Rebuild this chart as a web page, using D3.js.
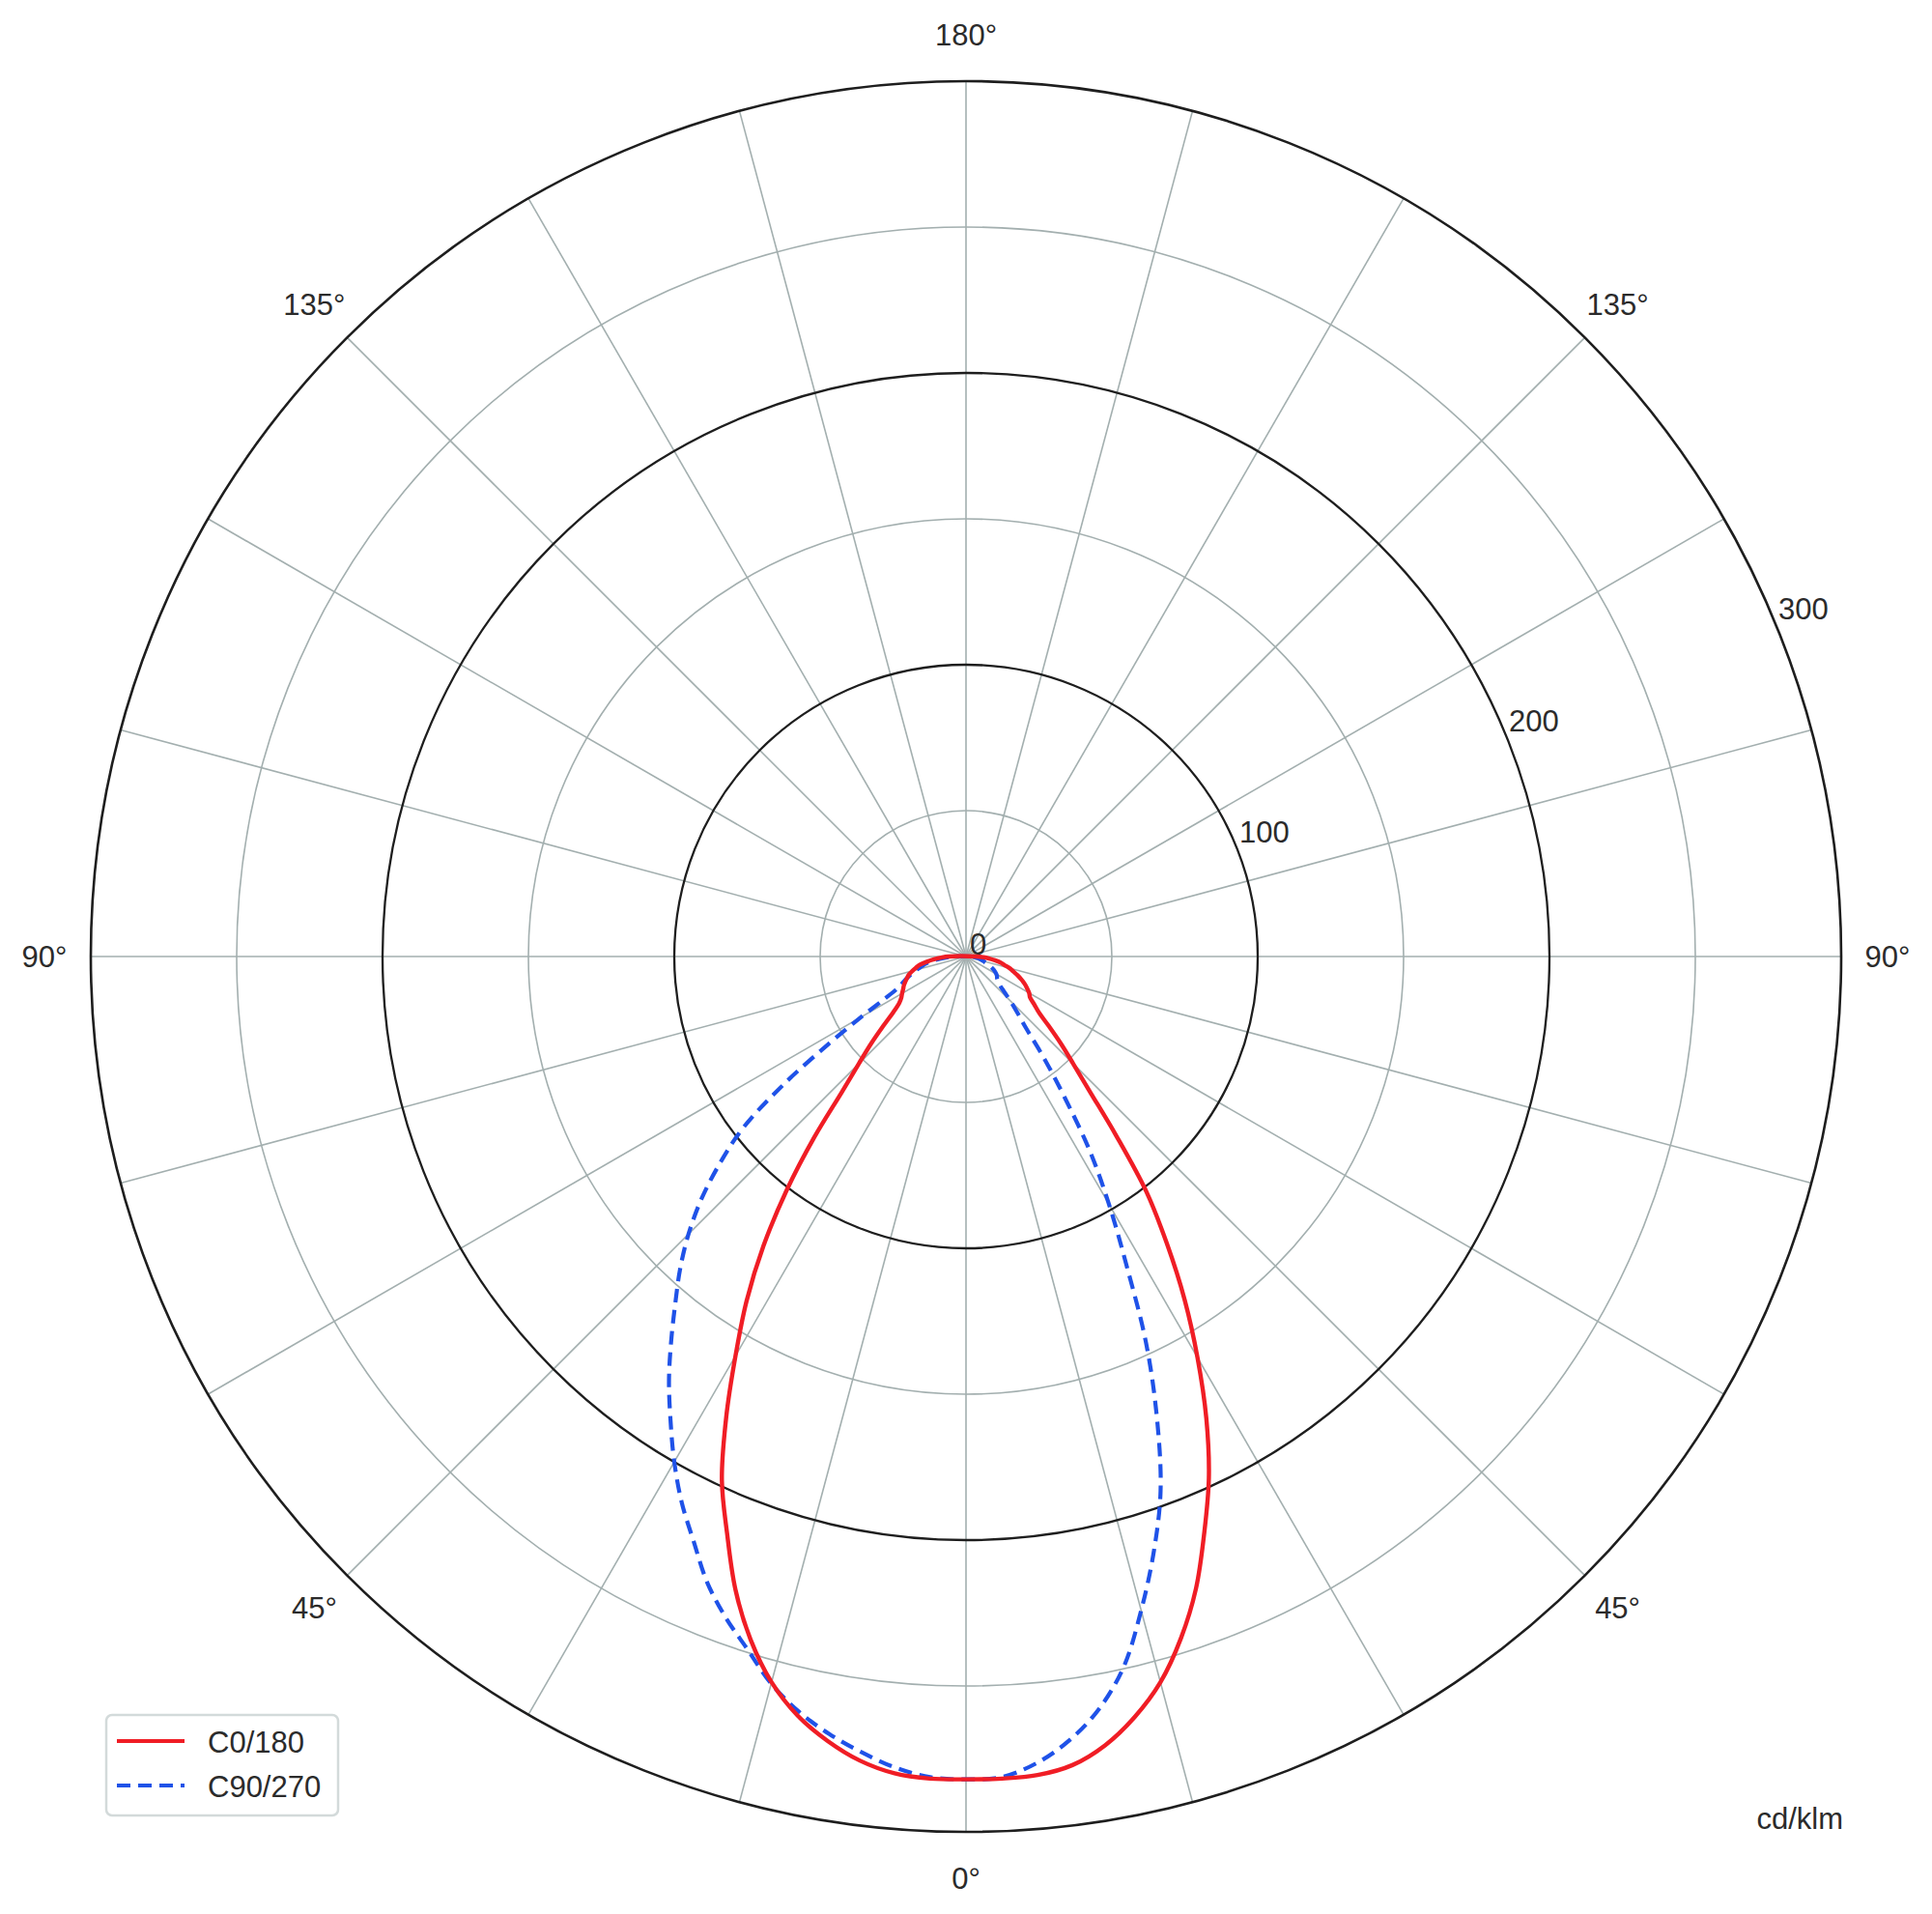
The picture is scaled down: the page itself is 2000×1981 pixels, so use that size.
<!DOCTYPE html>
<html>
<head>
<meta charset="utf-8">
<script src="https://cdn.jsdelivr.net/npm/d3@7"></script>
<style>
  body { margin: 0; background: #fff; }
  text { font-family: "Liberation Sans", Arial, sans-serif; fill: #2b2b2b; }
</style>
</head>
<body>
<div id="chart"></div>
<script>
// gamma angles (deg, 0 = straight down) and intensities in cd/klm
var gamma = [0, 2.5, 5, 7.5, 10, 12.5, 15, 17.5, 20, 22.5, 25, 27.5, 30, 32.5, 35, 37.5, 40, 42.5, 45,
             47.5, 50, 52.5, 55, 57.5, 60, 62.5, 65, 67.5, 70, 72.5, 75, 77.5, 80, 82.5, 85, 87.5, 90];

var c0   = [282, 282, 281.6, 279.5, 274.5, 267, 257.5, 245, 230.5, 213.5, 197, 178.4, 158.7, 139.5, 120, 101.5, 80, 63, 52,
            44, 37, 31.5, 28.5, 26, 25, 23.6, 22.2, 20.5, 18.8, 17, 15.5, 13.5, 12, 10, 8, 6, 3.5];
var c180 = [282, 282, 281, 278, 273, 266.5, 257.5, 245.5, 231, 214, 198, 178, 158, 140, 121, 101, 81, 63, 52,
            44, 37, 31.5, 28, 26.3, 25.3, 24.3, 23.5, 22.5, 21.5, 20.5, 19, 17.5, 16, 13.5, 11, 8.5, 6];
var c90  = [282, 281.5, 277.5, 271, 262, 249.5, 232, 214, 195, 171, 146, 119, 98, 79, 59, 44, 32, 26, 21.5,
            17.5, 15, 13.8, 13, 12.6, 12, 11.2, 10.3, 9.3, 8, 7, 6.2, 5.5, 4.8, 4, 3.3, 2.5, 1.5];
var c270 = [282, 281.5, 279, 275, 270.5, 265, 258, 249, 241, 232, 221, 211, 200, 188.5, 177.5, 166, 155, 145, 134.5,
            123, 110, 96, 76, 56, 41.5, 31.5, 26, 23.5, 21.5, 19.5, 17.5, 15.5, 14, 11.5, 9, 6.5, 4];

var ringTicks = [50, 100, 150, 200, 250, 300];
var majorRings = [100, 200, 300];
var radialLabels = [0, 100, 200, 300];
var angleTickPos = [0, 45, 90, 135, 180, 225, 270, 315];
var angleTickLabels = ["180°", "135°", "90°", "45°", "0°", "45°", "90°", "135°"];

var width = 2000, height = 1981;
var cx = 1000, cy = 990, R = 906;

var svg = d3.select("#chart").append("svg")
  .attr("width", width)
  .attr("height", height);

svg.append("rect").attr("width", width).attr("height", height).attr("fill", "#fff");

var g = svg.append("g").attr("transform", `translate(${cx},${cy})`);

var r = d3.scaleLinear().domain([0, 300]).range([0, R]);
var rad = Math.PI / 180;

// spokes every 15 degrees
g.selectAll(".spoke")
  .data(d3.range(0, 360, 15))
  .enter().append("line")
  .attr("x1", 0).attr("y1", 0)
  .attr("x2", d => R * Math.sin(d * rad))
  .attr("y2", d => -R * Math.cos(d * rad))
  .attr("stroke", "#a3afaf")
  .attr("stroke-width", 1.6);

// rings
g.selectAll(".ring")
  .data(ringTicks)
  .enter().append("circle")
  .attr("r", d => r(d))
  .attr("fill", "none")
  .attr("stroke", d => majorRings.indexOf(d) >= 0 ? "#1e1e1e" : "#a3afaf")
  .attr("stroke-width", d => d === 300 ? 2.6 : (majorRings.indexOf(d) >= 0 ? 2.3 : 1.6));

// radial labels along 22.5 deg above horizontal
var labAng = 67.5 * rad;
g.selectAll(".rlab")
  .data(radialLabels)
  .enter().append("text")
  .attr("x", d => r(d) * Math.sin(labAng) + 4)
  .attr("y", d => -r(d) * Math.cos(labAng) - 2)
  .attr("font-size", 31)
  .attr("text-anchor", "start")
  .text(d => d);

// angle labels
g.selectAll(".alab")
  .data(angleTickPos)
  .enter().append("text")
  .attr("x", d => (R + 48) * Math.sin(d * rad))
  .attr("y", d => -(R + 48) * Math.cos(d * rad))
  .attr("font-size", 31)
  .attr("text-anchor", "middle")
  .attr("dominant-baseline", "central")
  .text((d, i) => angleTickLabels[i]);

// build polar outline: right half-plane from 90 down to 0, left half-plane from 0 up to 90
function outline(right, left) {
  var pts = [];
  for (var i = gamma.length - 1; i >= 0; i--) pts.push([Math.PI - gamma[i] * rad, right[i]]);
  for (var j = 1; j < gamma.length; j++) pts.push([Math.PI + gamma[j] * rad, left[j]]);
  return pts;
}

var line = d3.lineRadial()
  .angle(d => d[0])
  .radius(d => r(d[1]))
  .curve(d3.curveCatmullRomClosed.alpha(0.5));

g.append("path")
  .attr("d", line(outline(c90, c270)))
  .attr("fill", "none")
  .attr("stroke", "#1f52e8")
  .attr("stroke-width", 4.2)
  .attr("stroke-dasharray", "14,8");

g.append("path")
  .attr("d", line(outline(c0, c180)))
  .attr("fill", "none")
  .attr("stroke", "#f01d25")
  .attr("stroke-width", 4.4);

// legend
var leg = svg.append("g");
leg.append("rect")
  .attr("x", 110).attr("y", 1775)
  .attr("width", 240).attr("height", 104)
  .attr("rx", 6)
  .attr("fill", "#fff")
  .attr("stroke", "#d3dada")
  .attr("stroke-width", 2.5);

var legendItems = ["C0/180", "C90/270"];
var legendColors = ["#f01d25", "#1f52e8"];
var legendDash = [null, "14,8"];

legendItems.forEach(function(name, i) {
  var y = 1802 + i * 46;
  leg.append("line")
    .attr("x1", 121).attr("x2", 191)
    .attr("y1", y).attr("y2", y)
    .attr("stroke", legendColors[i])
    .attr("stroke-width", 4.2)
    .attr("stroke-dasharray", legendDash[i]);
  leg.append("text")
    .attr("x", 215).attr("y", y + 12)
    .attr("font-size", 31)
    .text(name);
});

// unit label
svg.append("text")
  .attr("x", 1908).attr("y", 1893)
  .attr("font-size", 31)
  .attr("text-anchor", "end")
  .text("cd/klm");
</script>
</body>
</html>
